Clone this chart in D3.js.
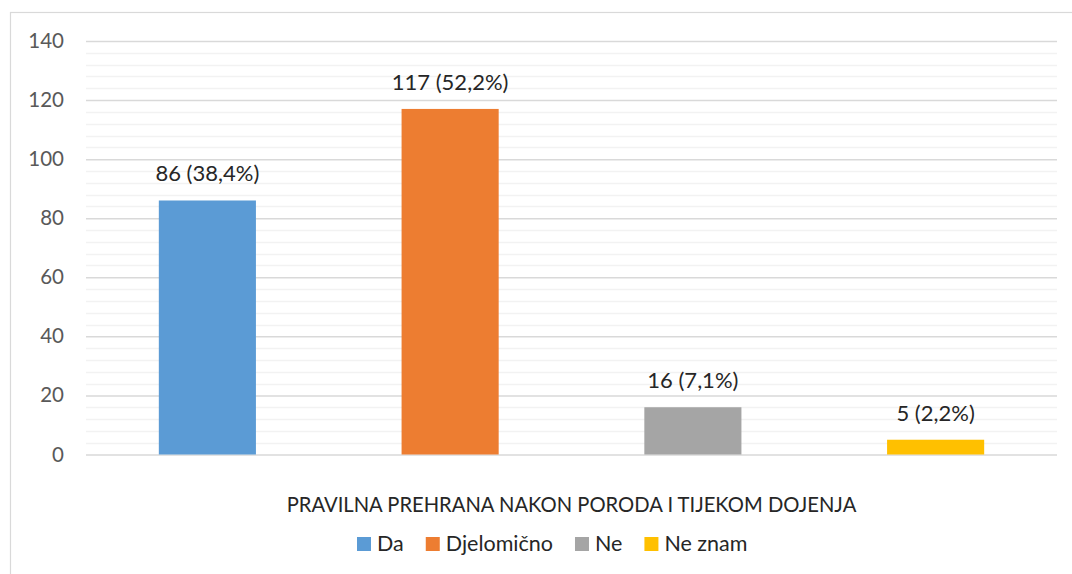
<!DOCTYPE html>
<html>
<head>
<meta charset="utf-8">
<script src="https://cdn.jsdelivr.net/npm/d3@7"></script>
<style>
  html, body { margin: 0; padding: 0; background: #fff; }
  svg { display: block; font-family: "Lato", "Noto Sans", sans-serif; }
</style>
</head>
<body>
<svg id="chart" width="1072" height="574"></svg>
<script>
// Answers to: PRAVILNA PREHRANA NAKON PORODA I TIJEKOM DOJENJA
const categories = ["Da", "Djelomično", "Ne", "Ne znam"];
const counts = [86, 117, 16, 5];
const percents = ["38,4%", "52,2%", "7,1%", "2,2%"];
const colors = ["#5b9bd5", "#ed7d31", "#a5a5a5", "#ffc000"];
const yTicks = [0, 20, 40, 60, 80, 100, 120, 140];
const axisTitle = "PRAVILNA PREHRANA NAKON PORODA I TIJEKOM DOJENJA";

const svg = d3.select("#chart");
const W = 1072, H = 574;
const plot = { left: 86, right: 1057, top: 41, bottom: 454.5 };

// Chart frame
svg.append("rect")
  .attr("x", 10.5).attr("y", 12.5)
  .attr("width", W + 10).attr("height", H + 10)
  .attr("fill", "none").attr("stroke", "#d9d9d9").attr("stroke-width", 1.2);

const x = d3.scaleBand()
  .domain(categories)
  .range([plot.left, plot.right])
  .paddingInner(0.6)
  .paddingOuter(0.3);

const y = d3.scaleLinear().domain([0, 140]).range([plot.bottom, plot.top]);

// Minor gridlines every 4
const minor = d3.range(0, 141, 4).filter(v => v % 20 !== 0);
svg.append("g").selectAll("line").data(minor).join("line")
  .attr("x1", plot.left).attr("x2", plot.right)
  .attr("y1", d => Math.round(y(d)) + 0.5).attr("y2", d => Math.round(y(d)) + 0.5)
  .attr("stroke", "#f2f2f2").attr("stroke-width", 1.5);

// Major gridlines + labels via axis
const yAxis = d3.axisLeft(y).tickValues(yTicks).tickSize(-(plot.right - plot.left)).tickPadding(22);
const gy = svg.append("g").attr("transform", `translate(${plot.left},0)`).call(yAxis);
gy.select(".domain").remove();
gy.selectAll(".tick line").attr("stroke", "#d9d9d9").attr("stroke-width", 1.5);
gy.selectAll(".tick text")
  .attr("fill", "#595959")
  .style("font-size", "20.5px")
  .style("font-family", "Lato, 'Noto Sans', sans-serif");

// Bars
svg.append("g").selectAll("rect").data(categories).join("rect")
  .attr("x", d => x(d))
  .attr("width", x.bandwidth())
  .attr("y", (d, i) => y(counts[i]))
  .attr("height", (d, i) => y(0) - y(counts[i]))
  .attr("fill", (d, i) => colors[i]);

// Value labels
svg.append("g").selectAll("text").data(categories).join("text")
  .attr("x", d => x(d) + x.bandwidth() / 2)
  .attr("y", (d, i) => y(counts[i]) - 19)
  .attr("text-anchor", "middle")
  .attr("fill", "#262626")
  .style("font-size", "22px")
  .text((d, i) => `${counts[i]} (${percents[i]})`);

// Category axis title
svg.append("text")
  .attr("x", (plot.left + plot.right) / 2)
  .attr("y", 512)
  .attr("text-anchor", "middle")
  .attr("fill", "#262626")
  .style("font-size", "20.2px")
  .text(axisTitle);

// Legend
const legend = svg.append("g").attr("transform", "translate(357,551)");
let cx = 0;
categories.forEach((c, i) => {
  const g = legend.append("g");
  g.append("rect").attr("x", cx).attr("y", -14).attr("width", 14).attr("height", 14).attr("fill", colors[i]);
  const t = g.append("text").attr("x", cx + 20).attr("y", 0)
    .attr("fill", "#262626").style("font-size", "21.5px").text(c);
  cx += 20 + t.node().getComputedTextLength() + 22;
});
</script>
</body>
</html>
